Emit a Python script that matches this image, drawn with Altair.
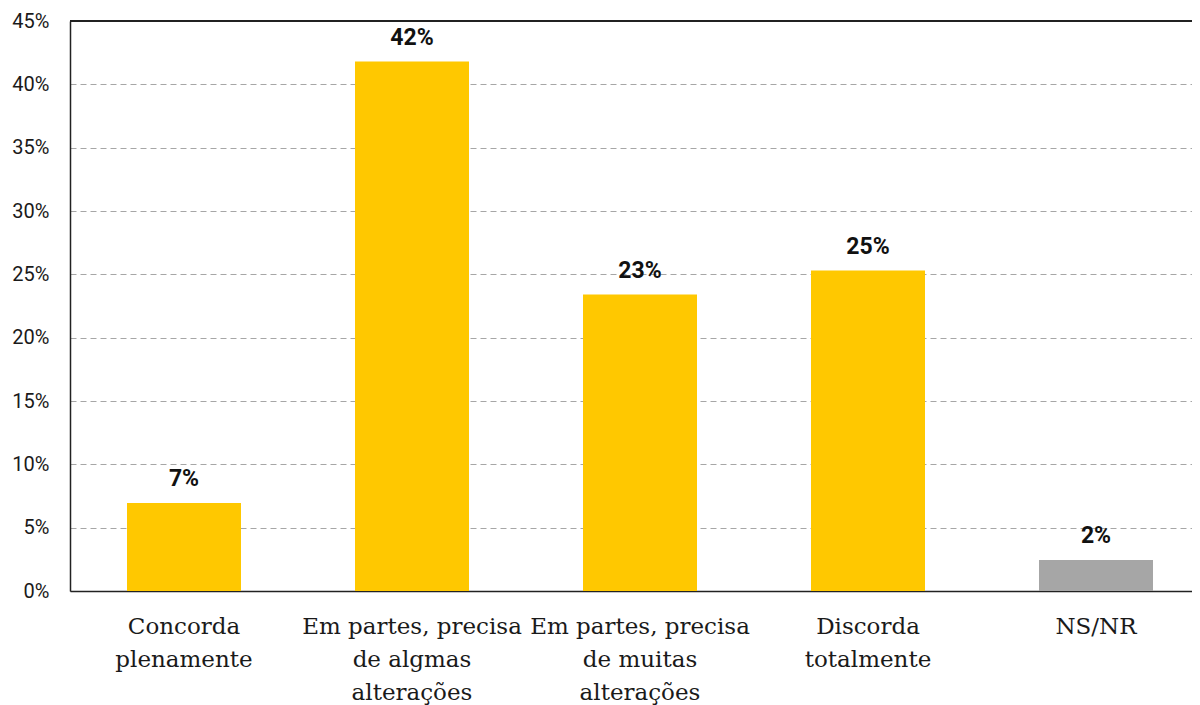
import altair as alt
import pandas as pd

categories = [
    "Concorda plenamente",
    "Em partes, precisa de algmas alterações",
    "Em partes, precisa de muitas alterações",
    "Discorda totalmente",
    "NS/NR",
]
label_lines = [
    ["Concorda", "plenamente"],
    ["Em partes, precisa", "de algmas", "alterações"],
    ["Em partes, precisa", "de muitas", "alterações"],
    ["Discorda", "totalmente"],
    ["NS/NR"],
]
values = [6.95, 41.8, 23.4, 25.3, 2.45]
value_labels = ["7%", "42%", "23%", "25%", "2%"]
bar_colors = ["#FFC800", "#FFC800", "#FFC800", "#FFC800", "#A6A6A6"]

df = pd.DataFrame({
    "cat": categories,
    "val": [v / 100 for v in values],
    "lab": value_labels,
    "col": bar_colors,
})

# Build label expression mapping category -> multi-line array
expr = "[datum.label]"
for c, lines in reversed(list(zip(categories, label_lines))):
    arr = "[" + ",".join("'" + l + "'" for l in lines) + "]"
    expr = f"datum.label === '{c}' ? {arr} : ({expr})"

x = alt.X(
    "cat:N",
    sort=categories,
    title=None,
    scale=alt.Scale(range=[0, 1140], paddingInner=0.5, paddingOuter=0.25),
    axis=alt.Axis(
        labelExpr=expr,
        labelAngle=0,
        labelFont="DejaVu Serif",
        labelFontSize=23,
        labelLineHeight=33,
        labelColor="#1a1a1a",
        labelPadding=24,
        labelLimit=400,
        ticks=False,
        domain=True,
        domainColor="#222222",
        domainWidth=1.5,
        grid=False,
    ),
)

y = alt.Y(
    "val:Q",
    title=None,
    scale=alt.Scale(domain=[0, 0.45], nice=False),
    axis=alt.Axis(
        format=".0%",
        values=[i / 100 for i in range(0, 50, 5)],
        labelFont="Roboto",
        labelFontSize=20,
        labelColor="#1a1a1a",
        labelPadding=21,
        ticks=False,
        domain=True,
        domainColor="#222222",
        domainWidth=1.5,
        grid=True,
        gridColor="#A6A6A6",
        gridDash=[6, 4],
        gridWidth=1,
    ),
)

base = alt.Chart(df)

bars = base.mark_bar().encode(
    x=x,
    y=y,
    color=alt.Color("col:N", scale=None, legend=None),
)

texts = base.mark_text(
    dy=-12,
    baseline="bottom",
    font="Roboto",
    fontWeight="bold",
    fontSize=23,
    color="#111111",
).encode(x=x, y=y, text="lab:N")

top_line = base.mark_rule(color="#222222", strokeWidth=1.5).encode(
    x=alt.value(0), x2=alt.value(1140), y=alt.value(0)
)

chart = (
    alt.layer(bars, texts, top_line)
    .properties(
        width=1122,
        height=570,
        autosize=alt.AutoSizeParams(type="none"),
        padding={"left": 62, "top": 13, "right": 0, "bottom": 115},
    )
    .configure_view(stroke=None)
    .configure(background="white")
)

chart.save("out.html", embed_options={"renderer": "svg", "actions": False})
